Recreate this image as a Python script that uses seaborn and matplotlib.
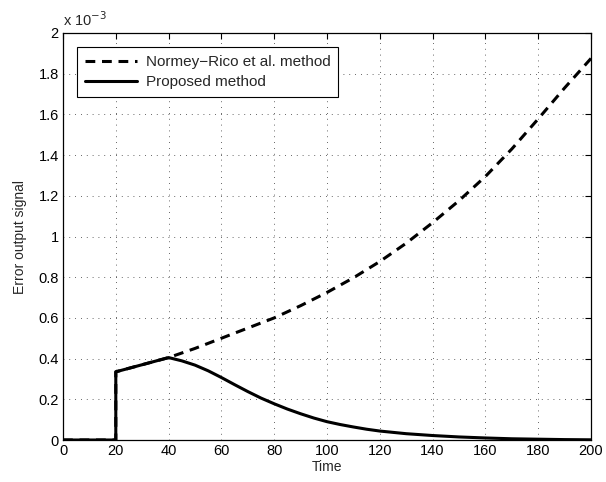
import numpy as np
import pandas as pd
import matplotlib
matplotlib.use("Agg")
import matplotlib.pyplot as plt
import matplotlib.ticker as mticker
import seaborn as sns

# values, y in units of 1e-3
time_normey = [0, 20, 20, 30, 40, 50, 60, 70, 80, 90, 100, 110, 120, 130, 140,
               150, 160, 170, 180, 190, 200]
normey_e3 = [0, 0, 0.335, 0.37, 0.405, 0.45, 0.50, 0.55, 0.60, 0.66, 0.725, 0.797,
             0.877, 0.967, 1.068, 1.176, 1.295, 1.43, 1.578, 1.73, 1.875]

time_proposed = [0, 20, 20, 30, 40, 45, 50, 55, 60, 65, 70, 75, 80, 85, 90, 95, 100,
                 105, 110, 115, 120, 130, 140, 150, 160, 170, 180, 190, 200]
proposed_e3 = [0, 0, 0.335, 0.37, 0.405, 0.389, 0.368, 0.340, 0.307, 0.272, 0.238,
               0.206, 0.178, 0.152, 0.129, 0.108, 0.090, 0.076, 0.064, 0.053, 0.044,
               0.031, 0.022, 0.015, 0.010, 0.006, 0.004, 0.002, 0.001]

x_ticks = list(range(0, 201, 20))
y_ticks = [0, 0.2, 0.4, 0.6, 0.8, 1, 1.2, 1.4, 1.6, 1.8, 2]

sns.set_style("white")
plt.rcParams['font.family'] = ['Liberation Sans', 'DejaVu Sans']

df_n = pd.DataFrame({'Time': time_normey, 'err': normey_e3})
df_p = pd.DataFrame({'Time': time_proposed, 'err': proposed_e3})

fig = plt.figure(figsize=(6.06, 4.82), dpi=100)
ax = fig.add_axes([63 / 606, 42 / 482, 528 / 606, 407 / 482])

sns.lineplot(data=df_n, x='Time', y='err', ax=ax, color='black', lw=2.2,
             sort=False, estimator=None, label='Normey\u2212Rico et al. method',
             dashes=False, linestyle=(0, (3.2, 2.2)))
sns.lineplot(data=df_p, x='Time', y='err', ax=ax, color='black', lw=2.2,
             sort=False, estimator=None, label='Proposed method')

ax.set_xlim(0, 200)
ax.set_ylim(0, 2)
ax.set_xticks(x_ticks)
ax.set_yticks(y_ticks)
ax.yaxis.set_major_formatter(mticker.FormatStrFormatter('%g'))
ax.xaxis.set_major_formatter(mticker.FormatStrFormatter('%g'))
ax.tick_params(direction='in', length=4, width=0.8, top=True, right=True,
               labelsize=10.5, colors='black', pad=3)
ax.grid(True, color='black', linestyle=(0, (1, 6)), linewidth=0.6, alpha=0.8)
for s in ax.spines.values():
    s.set_color('black')
    s.set_linewidth(0.9)

ax.set_xlabel('Time', fontsize=10, labelpad=1)
ax.set_ylabel('Error output signal', fontsize=10, labelpad=8)
ax.text(0.0, 1.01, 'x 10$^{-3}$', transform=ax.transAxes, fontsize=10.5,
        ha='left', va='bottom')

leg = ax.legend(loc='upper left', bbox_to_anchor=(0.027, 0.965), fontsize=11,
                fancybox=False, framealpha=1, edgecolor='black',
                handlelength=3.4, handletextpad=0.6, borderpad=0.5,
                labelspacing=0.4, borderaxespad=0)
leg.get_frame().set_linewidth(0.8)

fig.savefig('out.png', dpi=100)
